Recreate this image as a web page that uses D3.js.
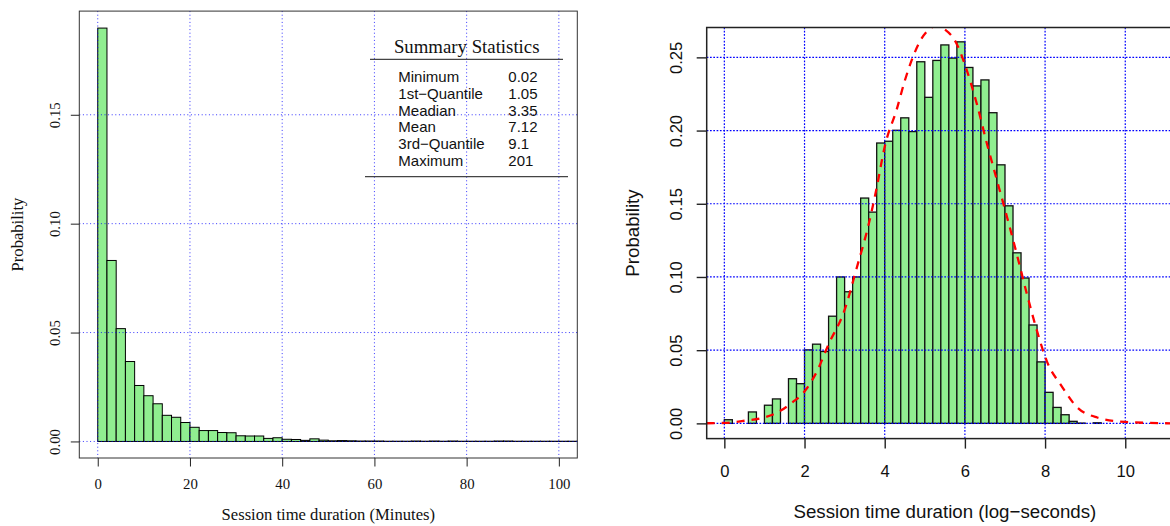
<!DOCTYPE html>
<html>
<head>
<meta charset="utf-8">
<script src="https://cdn.jsdelivr.net/npm/d3@7"></script>
<style>
  body { margin: 0; background: #fff; }
  svg { display: block; }
</style>
</head>
<body>
<svg id="chart" width="1170" height="526"></svg>
<script>

// ---- left panel: session time in minutes, 2 minute bins starting at 0 ----
var minutesBinWidth = 2;
var minutesProb = [
  0.1898, 0.0831, 0.0518, 0.0367, 0.0257, 0.0210, 0.0173, 0.0120, 0.0111, 0.0087,
  0.0065, 0.0050, 0.0050, 0.0041, 0.0040, 0.0026, 0.0025, 0.0025, 0.0014, 0.0017,
  0.0010, 0.0009, 0.0005, 0.0012, 0.0006, 0.0003, 0.0004, 0.0003, 0.0002, 0.0002,
  0.0002, 0.0001, 0.0001, 0.0001, 0.0002, 0.0001, 0.0002, 0.0001, 0.0002, 0.0001,
  0.0001, 0.0001, 0.0001, 0.0002, 0.0002, 0.0001, 0.0001, 0.0001, 0.0001, 0.0001,
  0.0001, 0.0001, 0.0001
];
var minutesXTicks = [0, 20, 40, 60, 80, 100];
var minutesYTicks = [0, 0.05, 0.10, 0.15];
var statNames = ["Minimum", "1st\u2212Quantile", "Meadian", "Mean", "3rd\u2212Quantile", "Maximum"];
var statValues = ["0.02", "1.05", "3.35", "7.12", "9.1", "201"];

// ---- right panel: log-seconds, 0.2 bins starting at 0 ----
var logBinWidth = 0.2;
var logProb = [
  0.0025, 0, 0, 0.0078, 0, 0.0124, 0.0167, 0, 0.0305, 0.0271,
  0.0502, 0.0541, 0.0491, 0.0732, 0.1000, 0.0899, 0.1000, 0.1539, 0.1443, 0.1915,
  0.1927, 0.2002, 0.2087, 0.1993, 0.2470, 0.2227, 0.2479, 0.2585, 0.2495, 0.2606,
  0.2431, 0.2305, 0.2346, 0.2122, 0.1766, 0.1486, 0.1165, 0.0993, 0.0672, 0.0420,
  0.0212, 0.0109, 0.0059, 0.0014, 0.0002, 0, 0.0004
];
// fitted density, points
var fitX = [-0.44, 0, 0.5, 1.0, 1.3, 1.7, 2.0, 2.3, 2.6, 3.0, 3.3, 3.6, 3.8, 4.0, 4.3, 4.5, 4.7,
            4.9, 5.1, 5.3, 5.5, 5.8, 6.0, 6.3, 6.55, 6.8, 7.05, 7.3, 7.55, 7.8, 8.05, 8.4,
            8.8, 9.3, 10.0, 11.0, 11.5];
var fitY = [0.0001, 0.0003, 0.0018, 0.0041, 0.0071, 0.0144, 0.0218, 0.035, 0.054, 0.0775, 0.106,
            0.136, 0.161, 0.189, 0.2145, 0.234, 0.250, 0.262, 0.269, 0.2715, 0.269, 0.259,
            0.245, 0.218, 0.191, 0.166, 0.141, 0.115, 0.088, 0.063, 0.042, 0.026, 0.011,
            0.004, 0.001, 0.0001, 0];
var logXTicks = [0, 2, 4, 6, 8, 10];
var logYTicks = [0, 0.05, 0.10, 0.15, 0.20, 0.25];

var svg = d3.select("#chart");
var serif = "'Liberation Serif', 'Times New Roman', serif",
    sans = "'Liberation Sans', Arial, sans-serif";

function bins(values, width) {
  return values.map(function(v, i) { return {x0: i * width, x1: (i + 1) * width, p: v}; });
}

// ===================== left panel =====================
var L = {left: 79.3, right: 577.3, top: 11.1, bottom: 458};
var xL = d3.scaleLinear().domain([-4, 104]).range([L.left, L.right]),
    yL = d3.scaleLinear().domain([-0.0076, 0.1976]).range([L.bottom, L.top]);

svg.append("clipPath").attr("id", "clipL")
  .append("rect").attr("x", L.left).attr("y", L.top)
  .attr("width", L.right - L.left).attr("height", L.bottom - L.top);

var gL = svg.append("g");

gL.append("g").attr("clip-path", "url(#clipL)")
  .selectAll("rect")
  .data(bins(minutesProb, minutesBinWidth))
  .enter().append("rect")
    .attr("x", function(d) { return xL(d.x0); })
    .attr("width", function(d) { return xL(d.x1) - xL(d.x0); })
    .attr("y", function(d) { return yL(d.p); })
    .attr("height", function(d) { return yL(0) - yL(d.p); })
    .attr("fill", "#90ee90")
    .attr("stroke", "#000")
    .attr("stroke-width", 1);

// grid on top of the bars
var gridL = gL.append("g").attr("stroke", "blue").attr("stroke-opacity", 0.8)
  .attr("stroke-width", 1).attr("stroke-dasharray", "1,2.6");
gridL.selectAll(".v").data(minutesXTicks).enter().append("line")
  .attr("x1", function(d) { return xL(d); }).attr("x2", function(d) { return xL(d); })
  .attr("y1", L.top).attr("y2", L.bottom);
gridL.selectAll(".h").data(minutesYTicks).enter().append("line")
  .attr("y1", function(d) { return yL(d); }).attr("y2", function(d) { return yL(d); })
  .attr("x1", L.left).attr("x2", L.right);

gL.append("rect").attr("x", L.left).attr("y", L.top)
  .attr("width", L.right - L.left).attr("height", L.bottom - L.top)
  .attr("fill", "none").attr("stroke", "#333").attr("stroke-width", 1);

var axL = gL.append("g").attr("transform", "translate(0," + L.bottom + ")")
  .call(d3.axisBottom(xL).tickValues(minutesXTicks).tickSize(8.5).tickSizeOuter(0).tickFormat(d3.format("d")));
var ayL = gL.append("g").attr("transform", "translate(" + L.left + ",0)")
  .call(d3.axisLeft(yL).tickValues(minutesYTicks).tickSize(8.5).tickSizeOuter(0).tickFormat(d3.format(".2f")));

[axL, ayL].forEach(function(a) {
  a.select(".domain").remove();
  a.selectAll(".tick line").attr("stroke", "#222");
  a.selectAll("text").attr("font-family", serif).attr("font-size", 14.8).attr("fill", "#111");
});
axL.selectAll("text").attr("y", 31.3).attr("dy", 0);
ayL.selectAll("text").attr("transform", "rotate(-90)").attr("x", 0).attr("y", -19.8)
  .attr("dy", 0).attr("text-anchor", "middle");

gL.append("text").attr("x", (L.left + L.right) / 2).attr("y", 520)
  .attr("text-anchor", "middle").attr("font-family", serif).attr("font-size", 16.6).attr("fill", "#111")
  .text("Session time duration (Minutes)");
gL.append("text").attr("transform", "translate(23," + (L.top + L.bottom) / 2 + ") rotate(-90)")
  .attr("text-anchor", "middle").attr("font-family", serif).attr("font-size", 16.6).attr("fill", "#111")
  .text("Probability");

// summary statistics table
var table = gL.append("g");
table.append("text").attr("x", 466.7).attr("y", 53.3).attr("text-anchor", "middle")
  .attr("font-family", serif).attr("font-size", 18.8).attr("fill", "#111")
  .text("Summary Statistics");
table.append("line").attr("x1", 370).attr("x2", 563).attr("y1", 59.3).attr("y2", 59.3)
  .attr("stroke", "#444").attr("stroke-width", 1.3);
table.append("line").attr("x1", 365).attr("x2", 568).attr("y1", 176.7).attr("y2", 176.7)
  .attr("stroke", "#444").attr("stroke-width", 1.3);
statNames.forEach(function(name, i) {
  var y = 82 + i * 16.75;
  table.append("text").attr("x", 398.3).attr("y", y)
    .attr("font-family", sans).attr("font-size", 15).attr("fill", "#111").text(name);
  table.append("text").attr("x", 508.3).attr("y", y)
    .attr("font-family", sans).attr("font-size", 15).attr("fill", "#111").text(statValues[i]);
});

// ===================== right panel =====================
var R = {left: 706.7, right: 1183, top: 27.5, bottom: 438.6};
var xR = d3.scaleLinear().domain([-0.44, 11.44]).range([R.left, R.right]),
    yR = d3.scaleLinear().domain([-0.0104, 0.2704]).range([R.bottom, R.top]);

svg.append("clipPath").attr("id", "clipR")
  .append("rect").attr("x", R.left).attr("y", R.top)
  .attr("width", R.right - R.left).attr("height", R.bottom - R.top);

var gR = svg.append("g");

gR.append("g").attr("clip-path", "url(#clipR)")
  .selectAll("rect")
  .data(bins(logProb, logBinWidth).filter(function(d) { return d.p > 0; }))
  .enter().append("rect")
    .attr("x", function(d) { return xR(d.x0); })
    .attr("width", function(d) { return xR(d.x1) - xR(d.x0); })
    .attr("y", function(d) { return yR(d.p); })
    .attr("height", function(d) { return yR(0) - yR(d.p); })
    .attr("fill", "#90ee90")
    .attr("stroke", "#111")
    .attr("stroke-width", 1.3);

var gridR = gR.append("g").attr("stroke", "blue").attr("stroke-width", 1.2)
  .attr("stroke-dasharray", "1.7,1.6");
gridR.selectAll(".v").data(logXTicks).enter().append("line")
  .attr("x1", function(d) { return xR(d); }).attr("x2", function(d) { return xR(d); })
  .attr("y1", R.top).attr("y2", R.bottom);
gridR.selectAll(".h").data(logYTicks).enter().append("line")
  .attr("y1", function(d) { return yR(d); }).attr("y2", function(d) { return yR(d); })
  .attr("x1", R.left).attr("x2", R.right);

var fit = d3.line()
  .x(function(d) { return xR(d[0]); })
  .y(function(d) { return yR(d[1]); })
  .curve(d3.curveMonotoneX);

gR.append("path").attr("clip-path", "url(#clipR)")
  .datum(fitX.map(function(x, i) { return [x, fitY[i]]; }))
  .attr("d", fit)
  .attr("fill", "none")
  .attr("stroke", "red")
  .attr("stroke-width", 2.3)
  .attr("stroke-dasharray", "8,7");

gR.append("rect").attr("x", R.left).attr("y", R.top)
  .attr("width", R.right - R.left).attr("height", R.bottom - R.top)
  .attr("fill", "none").attr("stroke", "#222").attr("stroke-width", 1.5);

var axR = gR.append("g").attr("transform", "translate(0," + R.bottom + ")")
  .call(d3.axisBottom(xR).tickValues(logXTicks).tickSize(10).tickSizeOuter(0).tickFormat(d3.format("d")));
var ayR = gR.append("g").attr("transform", "translate(" + R.left + ",0)")
  .call(d3.axisLeft(yR).tickValues(logYTicks).tickSize(10).tickSizeOuter(0).tickFormat(d3.format(".2f")));

[axR, ayR].forEach(function(a) {
  a.select(".domain").remove();
  a.selectAll(".tick line").attr("stroke", "#222").attr("stroke-width", 1.4);
  a.selectAll("text").attr("font-family", sans).attr("font-size", 16.6).attr("fill", "#111");
});
axR.selectAll("text").attr("y", 38.4).attr("dy", 0);
ayR.selectAll("text").attr("transform", "rotate(-90)").attr("x", 0).attr("y", -25.2)
  .attr("dy", 0).attr("text-anchor", "middle");

gR.append("text").attr("x", (R.left + R.right) / 2).attr("y", 517.5)
  .attr("text-anchor", "middle").attr("font-family", sans).attr("font-size", 18.7).attr("fill", "#111")
  .text("Session time duration (log\u2212seconds)");
gR.append("text").attr("transform", "translate(639.4," + (R.top + R.bottom) / 2 + ") rotate(-90)")
  .attr("text-anchor", "middle").attr("font-family", sans).attr("font-size", 18.7).attr("fill", "#111")
  .text("Probability");

</script>
</body>
</html>
